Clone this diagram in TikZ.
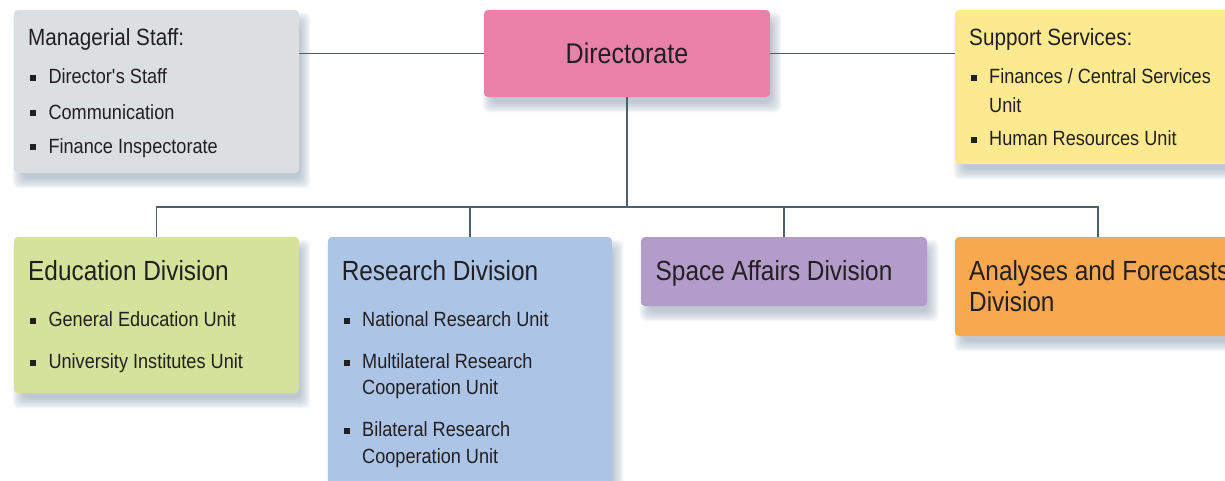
\documentclass[tikz,border=0pt]{standalone}
\usepackage{fontspec}
\setmainfont{Liberation Sans}[FakeStretch=0.88]
\usetikzlibrary{calc}
\definecolor{txt}{HTML}{231F20}
\definecolor{linec}{HTML}{4E5F6C}
\definecolor{shadowc}{HTML}{7A8EA3}
\definecolor{cgray}{HTML}{DCDFE2}
\definecolor{cpink}{HTML}{EA82A7}
\definecolor{cyellow}{HTML}{FBEA8F}
\definecolor{cgreen}{HTML}{D4E29B}
\definecolor{cblue}{HTML}{ACC5E7}
\definecolor{cpurple}{HTML}{B39BCA}
\definecolor{corange}{HTML}{F8A84E}
\pgfdeclarelayer{background}
\pgfsetlayers{background,main}
\tikzset{
  box/.style={rectangle, rounded corners=4pt, anchor=north west, inner sep=0pt, outer sep=0pt, draw=none},
  conn/.style={draw=linec, line width=1.8pt},
  ttl/.style={anchor=base west, inner sep=0pt, text=txt, font=\fontsize{27.7}{30}\selectfont},
  hdr/.style={anchor=base west, inner sep=0pt, text=txt, font=\fontsize{23.5}{28}\selectfont},
  itm/.style={anchor=base west, inner sep=0pt, text=txt, font=\fontsize{20.6}{27}\selectfont},
  bul/.style={rectangle, fill=txt, minimum size=6pt, inner sep=0pt},
}
\newcommand\bx[7]{\node[box, fill=#2, minimum width=#5pt, minimum height=#6pt] (#1) at (#3,#4) {};}
\newcommand\bitem[4]{\node[itm] (#1) at (#2,#3) {#4};
  \node[bul] (#1b) at ([xshift=-15pt,yshift=5.8pt]#1.base west) {};}
\newcommand\cont[4]{\node[itm] (#1) at (#2,#3) {#4};}
\newcommand\boxshadow[1]{%
  \foreach \i in {0,...,7}{%
    \pgfmathsetmacro\dd{\i*1.4-3.5}%
    \fill[shadowc, opacity=0.08, rounded corners=6pt]
      ([shift={(5-\dd,9+\dd)}]#1.south west) rectangle ([shift={(5+\dd,9-\dd)}]#1.north east);
  }}
\begin{document}
\begin{tikzpicture}[x=1pt, y=-1pt]
\useasboundingbox (0,0) rectangle (1225,480);
% boxes
\bx{mgr}{cgray}{14}{10}{285}{163}{}
\bx{dir}{cpink}{484}{10}{286}{87}{}
\bx{sup}{cyellow}{955}{10}{286}{154}{}
\bx{edu}{cgreen}{14}{237}{285}{156}{}
\bx{res}{cblue}{328}{237}{284}{270}{}
\bx{spa}{cpurple}{641}{237}{286}{69}{}
\bx{ana}{corange}{955}{237}{286}{99}{}
\begin{pgfonlayer}{background}
\boxshadow{mgr}\boxshadow{dir}\boxshadow{sup}\boxshadow{edu}
\boxshadow{res}\boxshadow{spa}\boxshadow{ana}
\end{pgfonlayer}
% connectors
\coordinate (bus) at (627,207);
\draw[conn] (dir.west) -- (dir.west -| mgr.east);
\draw[conn] (dir.east) -- (dir.east -| sup.west);
\draw[conn] (dir.south) -- (bus);
\draw[conn] (edu.north) |- (bus) -| (ana.north);
\draw[conn] (res.north) -- (res.north |- bus);
\draw[conn] (spa.north) -- (spa.north |- bus);
% texts
\node[anchor=base, inner sep=0pt, text=txt, font=\fontsize{28.5}{30}\selectfont] (dirT) at (627,63.3) {Directorate};
\node[hdr] (mgrT) at (28,45) {Managerial Staff:};
\bitem{mgr1}{48.3}{83.3}{Director\textquotesingle s Staff}
\bitem{mgr2}{48.3}{119}{Communication}
\bitem{mgr3}{48.3}{153}{Finance Inspectorate}
\node[hdr] (supT) at (969,45) {Support Services:};
\bitem{sup1}{989}{83.3}{Finances / Central Services}
\cont{sup1c}{989}{112.3}{Unit}
\bitem{sup2}{989}{145.7}{Human Resources Unit}
\node[ttl] (eduT) at (28,280) {Education Division};
\bitem{edu1}{48.3}{326.7}{General Education Unit}
\bitem{edu2}{48.3}{368.3}{University Institutes Unit}
\node[ttl] (resT) at (341.6,280) {Research Division};
\bitem{res1}{362}{326.7}{National Research Unit}
\bitem{res2}{362}{368.3}{Multilateral Research}
\cont{res2c}{362}{394.8}{Cooperation Unit}
\bitem{res3}{362}{436.7}{Bilateral Research}
\cont{res3c}{362}{463.3}{Cooperation Unit}
\node[ttl] (spaT) at (655.5,280) {Space Affairs Division};
\node[ttl] (anaT) at (969,280) {Analyses and Forecasts};
\node[ttl] (anaT2) at (969,311.7) {Division};
\end{tikzpicture}
\end{document}
